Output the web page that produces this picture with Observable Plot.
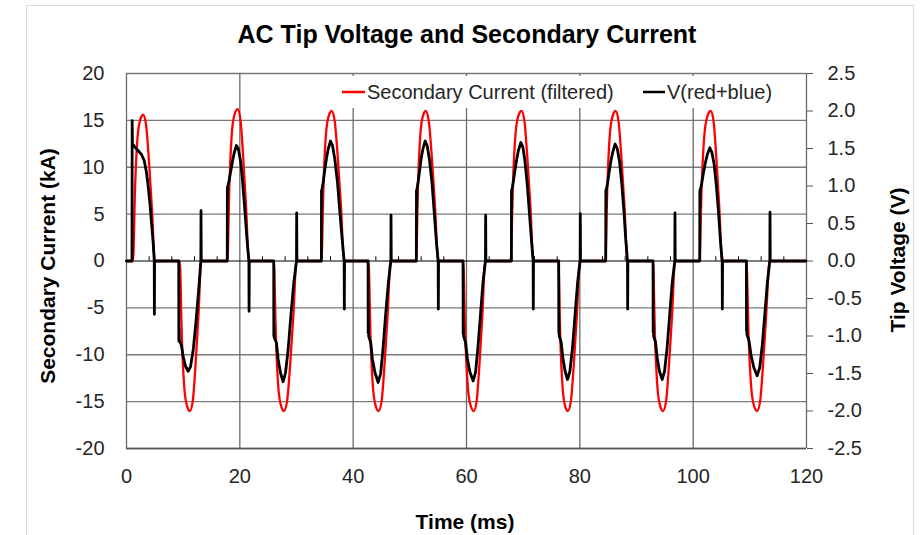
<!DOCTYPE html>
<html><head><meta charset="utf-8">
<script src="https://cdn.jsdelivr.net/npm/d3@7"></script>
<script src="https://cdn.jsdelivr.net/npm/@observablehq/plot@0.6"></script>
<style>
body{margin:0;background:#fff;}
#wrap{position:relative;width:920px;height:535px;overflow:hidden;}
</style></head><body>
<div id="wrap"></div>
<script>
const chartTitle = "AC Tip Voltage and Secondary Current";
const xTitle = "Time (ms)";
const yLeftTitle = "Secondary Current (kA)";
const yRightTitle = "Tip Voltage (V)";
const seriesNames = ["Secondary Current (filtered)", "V(red+blue)"];
const seriesColors = ["#ff0000", "#000000"];

const timeTicks = [0, 20, 40, 60, 80, 100, 120];
const currentTicks = [-20, -15, -10, -5, 0, 5, 10, 15, 20];
const voltTicks = [-2.5, -2.0, -1.5, -1.0, -0.5, 0.0, 0.5, 1.0, 1.5, 2.0, 2.5];
const minorTimeTicks = [4, 8, 12, 16, 24, 28, 32, 36, 44, 48, 52, 56, 64, 68, 72, 76, 84, 88, 92, 96, 104, 108, 112, 116];

// Secondary current (kA) vs time (ms)
const currentTimeMs = [
  0,
  1.15, 1.51, 1.96, 2.44, 2.94, 3.46, 3.97, 4.49, 5.0,
  9.4, 9.76, 10.21, 10.70, 11.2, 11.7, 12.2, 12.7, 13.2,
  17.8, 18.16, 18.61, 19.10, 19.6, 20.1, 20.6, 21.1, 21.6,
  26.0, 26.36, 26.81, 27.30, 27.8, 28.35, 28.9, 29.45, 30.0,
  34.4, 34.76, 35.21, 35.70, 36.2, 36.75, 37.3, 37.85, 38.4,
  42.7, 43.06, 43.51, 44.0, 44.5, 45.03, 45.55, 46.08, 46.6,
  51.1, 51.44, 51.87, 52.32, 52.8, 53.35, 53.9, 54.45, 55.0,
  59.4, 59.78, 60.26, 60.77, 61.3, 61.8, 62.3, 62.8, 63.3,
  67.8, 68.18, 68.66, 69.17, 69.7, 70.23, 70.75, 71.28, 71.8,
  76.2, 76.54, 76.97, 77.42, 77.9, 78.43, 78.95, 79.48, 80.0,
  84.5, 84.86, 85.31, 85.80, 86.3, 86.83, 87.35, 87.88, 88.4,
  92.9, 93.26, 93.71, 94.2, 94.7, 95.23, 95.75, 96.28, 96.8,
  101.1, 101.5, 102.0, 102.54, 103.1, 103.6, 104.1, 104.6, 105.1,
  109.4, 109.78, 110.26, 110.77, 111.3, 111.83, 112.35, 112.88, 113.5,
  119.9
];
const currentKA = [
  0,
  0, 7.8, 13.3, 15.1, 15.6, 14.5, 10.6, 5.6, 0,
  0, -8.0, -13.6, -15.5, -16.0, -14.9, -10.9, -5.8, 0,
  0, 8.1, 13.8, 15.7, 16.2, 15.1, 11.0, 5.8, 0,
  0, -8.0, -13.6, -15.5, -16.0, -14.9, -10.9, -5.8, 0,
  0, 8.0, 13.6, 15.5, 16.0, 14.9, 10.9, 5.8, 0,
  0, -8.0, -13.6, -15.5, -16.0, -14.9, -10.9, -5.8, 0,
  0, 8.0, 13.6, 15.5, 16.0, 14.9, 10.9, 5.8, 0,
  0, -8.0, -13.6, -15.5, -16.0, -14.9, -10.9, -5.8, 0,
  0, 8.0, 13.6, 15.5, 16.0, 14.9, 10.9, 5.8, 0,
  0, -8.0, -13.6, -15.5, -16.0, -14.9, -10.9, -5.8, 0,
  0, 8.0, 13.6, 15.5, 16.0, 14.9, 10.9, 5.8, 0,
  0, -8.0, -13.6, -15.5, -16.0, -14.9, -10.9, -5.8, 0,
  0, 8.0, 13.6, 15.5, 16.0, 14.9, 10.9, 5.8, 0,
  0, -8.0, -13.6, -15.5, -16.0, -14.9, -10.9, -5.8, 0,
  0
];

// Tip voltage V(red+blue) in volts vs time (ms)
const voltTimeMs = [
  0, 0.97, 1.0, 1.05, 1.2, 1.6, 2.06, 2.65, 3.12, 3.53, 3.82, 4.12, 4.41, 4.71, 4.9, 4.92, 4.96,
  9.22, 9.24, 9.28, 9.32, 9.7, 10.0, 10.4, 10.88, 11.3, 11.8, 12.3, 12.75, 13.12, 13.15, 13.19,
  17.78, 17.8, 17.84, 17.88, 18.1, 18.4, 18.7, 19.0, 19.4, 19.75, 20.15, 20.5, 20.9, 21.25, 21.6, 21.63, 21.67,
  25.98, 26.0, 26.04, 26.08, 26.46, 26.76, 27.17, 27.64, 28.06, 28.53, 29.0, 29.52, 30.0, 30.03, 30.07,
  34.39, 34.41, 34.45, 34.49, 34.71, 35.0, 35.29, 35.59, 36.0, 36.35, 36.76, 37.23, 37.65, 38.06, 38.41, 38.44, 38.48,
  42.63, 42.65, 42.69, 42.73, 43.1, 43.4, 43.85, 44.41, 44.85, 45.25, 45.7, 46.2, 46.65, 46.68, 46.72,
  51.15, 51.17, 51.21, 51.25, 51.45, 51.75, 52.0, 52.3, 52.7, 53.05, 53.45, 53.9, 54.3, 54.65, 55.0, 55.03, 55.07,
  59.39, 59.41, 59.45, 59.49, 59.85, 60.15, 60.6, 61.18, 61.6, 62.0, 62.45, 62.9, 63.35, 63.38, 63.42,
  67.92, 67.94, 67.98, 68.02, 68.25, 68.55, 68.85, 69.15, 69.59, 69.95, 70.3, 70.7, 71.1, 71.45, 71.76, 71.79, 71.83,
  76.27, 76.29, 76.33, 76.37, 76.7, 77.0, 77.4, 77.82, 78.25, 78.7, 79.15, 79.6, 80.05, 80.08, 80.12,
  84.57, 84.59, 84.63, 84.67, 84.9, 85.2, 85.5, 85.8, 86.23, 86.6, 87.0, 87.4, 87.8, 88.1, 88.41, 88.44, 88.48,
  92.92, 92.94, 92.98, 93.02, 93.35, 93.65, 94.05, 94.53, 94.95, 95.4, 95.85, 96.3, 96.76, 96.79, 96.83,
  101.16, 101.18, 101.22, 101.26, 101.5, 101.8, 102.15, 102.5, 102.94, 103.3, 103.7, 104.1, 104.5, 104.8, 105.12, 105.15, 105.19,
  109.39, 109.41, 109.45, 109.49, 109.85, 110.2, 110.7, 111.29, 111.75, 112.2, 112.65, 113.1, 113.53, 113.56, 113.6,
  119.9
];
const voltV = [
  0, 0, 1.87, 1.56, 1.55, 1.51, 1.47, 1.42, 1.34, 1.18, 1.0, 0.78, 0.51, 0.24, 0, -0.71, 0,
  0, -1.07, -0.9, -1.05, -1.13, -1.27, -1.40, -1.47, -1.41, -1.17, -0.78, -0.37, 0, 0.67, 0,
  0, 0.98, 0.8, 1.0, 1.07, 1.2, 1.33, 1.44, 1.54, 1.49, 1.32, 1.05, 0.66, 0.3, 0, -0.67, 0,
  0, -1.0, -0.86, -1.02, -1.09, -1.31, -1.49, -1.61, -1.49, -1.18, -0.73, -0.29, 0, 0.64, 0,
  0, 0.94, 0.68, 0.95, 1.05, 1.22, 1.37, 1.49, 1.6, 1.54, 1.36, 1.05, 0.65, 0.29, 0, -0.64, 0,
  0, -0.96, -0.82, -1.0, -1.09, -1.31, -1.49, -1.62, -1.50, -1.19, -0.74, -0.3, 0, 0.61, 0,
  0, 0.94, 0.7, 0.95, 1.05, 1.22, 1.37, 1.49, 1.6, 1.54, 1.36, 1.05, 0.65, 0.29, 0, -0.64, 0,
  0, -0.97, -0.84, -1.0, -1.09, -1.3, -1.48, -1.6, -1.48, -1.17, -0.73, -0.29, 0, 0.61, 0,
  0, 0.94, 0.7, 0.95, 1.05, 1.21, 1.35, 1.47, 1.58, 1.52, 1.34, 1.04, 0.64, 0.29, 0, -0.64, 0,
  0, -0.96, -0.83, -1.0, -1.08, -1.29, -1.47, -1.58, -1.47, -1.16, -0.72, -0.29, 0, 0.63, 0,
  0, 0.94, 0.7, 0.95, 1.04, 1.2, 1.34, 1.45, 1.56, 1.5, 1.33, 1.03, 0.64, 0.29, 0, -0.64, 0,
  0, -0.95, -0.82, -1.0, -1.08, -1.29, -1.47, -1.58, -1.47, -1.16, -0.72, -0.29, 0, 0.64, 0,
  0, 0.94, 0.7, 0.95, 1.03, 1.17, 1.31, 1.42, 1.51, 1.45, 1.29, 1.0, 0.62, 0.28, 0, -0.64, 0,
  0, -0.93, -0.8, -0.98, -1.06, -1.25, -1.42, -1.53, -1.42, -1.12, -0.7, -0.28, 0, 0.65, 0,
  0
];

// right axis: -2.5..2.5 V shares the plot height with -20..20 kA
const KA_PER_VOLT = 8;

const FONT = '"Liberation Sans", Arial, sans-serif';
const currentData = currentTimeMs.map((t, i) => ({t, v: currentKA[i]}));
const voltData = voltTimeMs.map((t, i) => ({t, v: voltV[i]}));

const chart = Plot.plot({
  width: 920, height: 535,
  marginLeft: 126, marginRight: 114, marginTop: 73, marginBottom: 87,
  style: {fontFamily: FONT, fontSize: "20px", background: "transparent", color: "#262626"},
  x: {domain: [0, 120]},
  y: {domain: [-20, 20]},
  marks: [
    Plot.ruleY(currentTicks.filter(d => d !== 0), {y: d => d, stroke: "#7a7a7a", strokeWidth: 1.3}),
    Plot.ruleX(timeTicks, {x: d => d, stroke: "#6a6a6a", strokeWidth: 1.3}),
    Plot.ruleY([-20], {y: d => d, stroke: "#555", strokeWidth: 1.6}),
    Plot.ruleY([0], {y: d => d, stroke: "#000", strokeWidth: 1}),
    Plot.ruleX(minorTimeTicks, {x: d => d, y1: 0, y2: 0.45, stroke: "#000", strokeWidth: 1}),
    Plot.axisX({ticks: timeTicks, tickSize: 0, tickPadding: 20, label: null, tickFormat: d => String(d), fill: "#262626"}),
    Plot.axisY({anchor: "left", ticks: currentTicks, tickSize: 0, tickPadding: 22, label: null, tickFormat: d => String(d), fill: "#262626"}),
    Plot.axisY({anchor: "right", ticks: voltTicks.map(v => v * KA_PER_VOLT), tickSize: 6, tickPadding: 15, label: null,
      tickFormat: d => (d / KA_PER_VOLT).toFixed(1), stroke: "#555", fill: "#262626"}),
    Plot.line(currentData, {x: "t", y: "v", stroke: seriesColors[0], strokeWidth: 2.3, curve: "monotone-x"}),
    Plot.line(voltData, {x: "t", y: d => d.v * KA_PER_VOLT, stroke: seriesColors[1], strokeWidth: 2.8, strokeLinejoin: "round"})
  ]
});

document.getElementById("wrap").appendChild(chart);
const svg = d3.select(chart);

// chart-area border
svg.append("rect").attr("x", 26.5).attr("y", 5.5).attr("width", 887).attr("height", 545)
  .attr("fill", "none").attr("stroke", "#d9d9d9").attr("stroke-width", 1);

// titles
svg.append("text").attr("x", 467).attr("y", 43).attr("text-anchor", "middle")
  .attr("font-family", FONT).attr("font-weight", "bold").attr("font-size", 25).attr("fill", "#000").text(chartTitle);
svg.append("text").attr("x", 465).attr("y", 529).attr("text-anchor", "middle")
  .attr("font-family", FONT).attr("font-weight", "bold").attr("font-size", 21).attr("fill", "#000").text(xTitle);
svg.append("text").attr("transform", "translate(55,266) rotate(-90)").attr("text-anchor", "middle")
  .attr("font-family", FONT).attr("font-weight", "bold").attr("font-size", 21).attr("fill", "#000").text(yLeftTitle);
svg.append("text").attr("transform", "translate(905,260) rotate(-90)").attr("text-anchor", "middle")
  .attr("font-family", FONT).attr("font-weight", "bold").attr("font-size", 21).attr("fill", "#000").text(yRightTitle);

// legend
const lg = svg.append("g");
lg.append("rect").attr("x", 335).attr("y", 76).attr("width", 450).attr("height", 32).attr("fill", "#fff");
const items = [{x: 342, w: 23}, {x: 643, w: 22}];
items.forEach((it, i) => {
  lg.append("line").attr("x1", it.x).attr("x2", it.x + it.w).attr("y1", 92).attr("y2", 92)
    .attr("stroke", seriesColors[i]).attr("stroke-width", 2.5);
  lg.append("text").attr("x", it.x + it.w + 2).attr("y", 98.5).attr("text-anchor", "start")
    .attr("font-family", FONT).attr("font-size", 20).attr("fill", "#262626").text(seriesNames[i]);
});
</script>
</body></html>
